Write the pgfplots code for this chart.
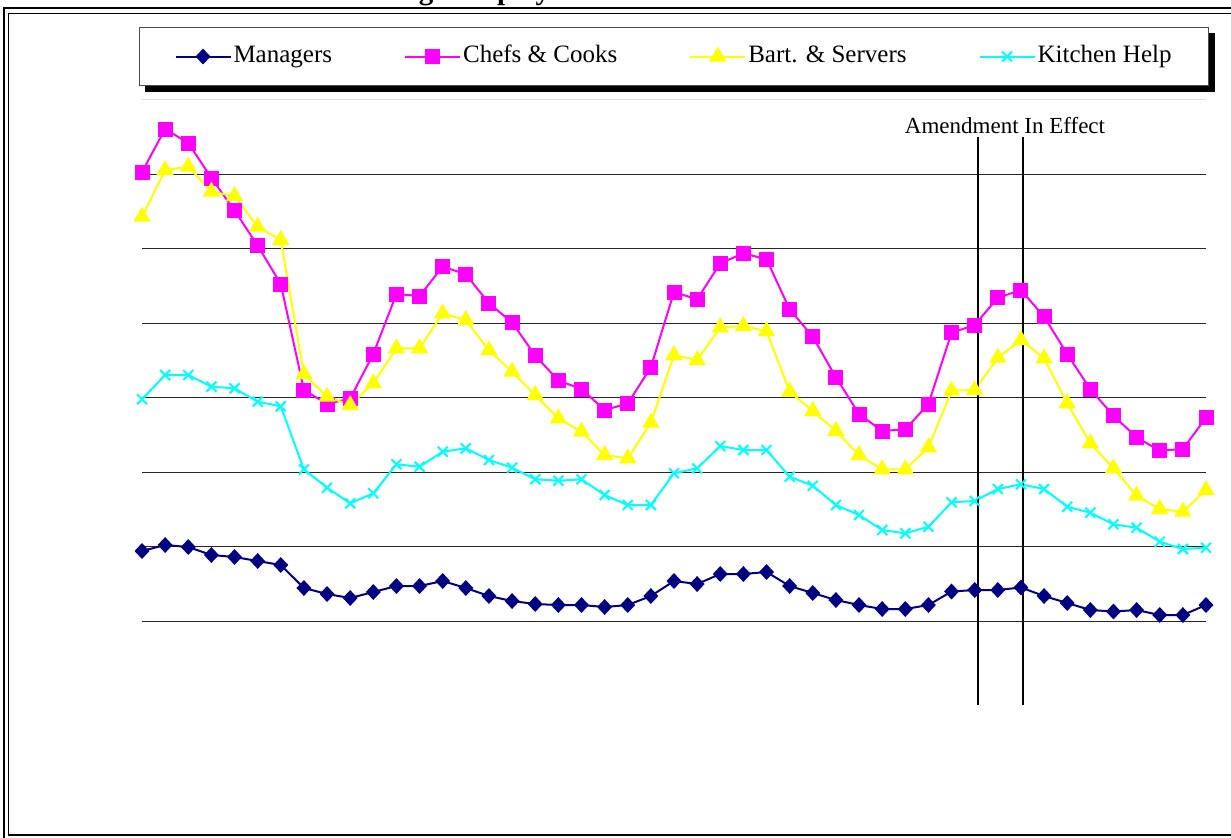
\documentclass[border=0pt]{standalone}
\usepackage{fontspec}
\setmainfont{Liberation Serif}
\usepackage{pgfplots}
\usepackage{pgfplotstable}
\pgfplotsset{compat=1.18}
\definecolor{mgr}{RGB}{0,0,128}
\definecolor{chef}{RGB}{255,0,255}
\definecolor{bart}{RGB}{255,255,0}
\definecolor{kit}{RGB}{0,255,255}

\pgfplotstableread{
x mgr chef bart kit
0 144.5 523.5 478.8 296.2
1 150.5 566.5 525.5 320.5
2 148.5 552.5 528.8 320.5
3 140.5 517.5 503.8 308.8
4 138.5 485.0 499.5 307.2
5 134.5 450.0 468.8 293.8
6 130.5 411.5 455.5 289.2
7 107.5 305.5 321.5 226.2
8 101.5 291.5 298.8 207.8
9 97.5 297.0 290.5 192.2
10 103.5 341.5 312.2 202.2
11 109.5 401.5 347.2 231.2
12 109.5 399.5 347.2 228.8
13 114.5 429.0 382.2 243.8
14 107.5 421.2 375.5 247.2
15 99.5 392.2 345.2 235.5
16 94.5 373.0 323.8 227.8
17 91.5 340.0 300.5 216.2
18 90.5 315.0 277.2 214.8
19 90.5 306.5 263.8 216.2
20 88.5 285.5 240.5 200.5
21 90.5 292.0 237.2 190.5
22 99.5 328.2 272.8 190.5
23 114.5 403.5 340.5 222.2
24 111.5 396.2 335.5 227.2
25 121.5 432.2 368.2 249.5
26 121.5 442.2 369.5 245.5
27 123.5 436.2 364.5 245.5
28 109.5 386.2 303.8 218.8
29 102.5 358.8 284.5 209.8
30 95.5 318.2 264.5 190.5
31 90.5 281.5 240.5 180.5
32 86.5 264.5 226.2 165.5
33 86.5 266.2 226.2 162.2
34 90.5 291.5 248.2 168.8
35 104.0 362.8 304.8 193.2
36 105.5 370.5 305.5 194.5
37 105.5 397.8 337.8 206.5
38 108.0 405.5 355.5 211.2
39 99.5 378.8 337.2 206.5
40 92.5 341.5 292.2 188.8
41 85.5 306.2 252.2 182.8
42 84.0 279.8 227.2 171.2
43 85.5 258.2 199.8 167.8
44 80.5 244.8 186.5 153.8
45 80.5 246.5 183.8 146.5
46 90.5 277.8 205.5 147.8
}\datatable

\begin{document}
\begin{tikzpicture}
\begin{scope}[x=0.5pt,y=-0.5pt]
\useasboundingbox (0,0) rectangle (1231,837);
\node[anchor=base west, inner sep=0pt, font=\bfseries\fontsize{14.5}{17}\selectfont] at (345,-0.5) {Average Employment};
\draw[line width=1pt] (3.5,8) rectangle (1250,850);
\draw[line width=0.75pt] (8.5,13.5) rectangle (1245,835);
\end{scope}
\begin{axis}[
  at={(71pt,-347.75pt)}, anchor=south west,
  scale only axis, width=532pt, height=298pt,
  xmin=0, xmax=46, ymin=0, ymax=596,
  clip=false,
  axis line style={draw=none},
  xtick=\empty,
  ytick={74.5,149,223.5,298,372.5,447,521.5},
  yticklabels={},
  major tick length=0pt,
  ymajorgrids,
  grid style={black!85, line width=0.5pt},
  extra y ticks={596},
  extra y tick labels={},
  extra y tick style={grid style={black!12, line width=0.5pt}},
  legend columns=4,
  legend cell align=left,
  legend image code/.code={\draw[mark repeat=2,mark phase=2,#1] plot coordinates {(0pt,0pt) (13.75pt,0pt) (27.5pt,0pt)};},
  legend style={
    name=leg,
    at={(-0.0028,1.1216)}, anchor=north west,
    draw=black!70, line width=0.5pt, fill=white,
    inner xsep=17.5pt, inner ysep=7.5pt,
    nodes={inner sep=1pt, text height=9pt, text depth=3pt},
    font=\fontsize{12.5}{14}\selectfont,
    /tikz/every even column/.append style={column sep=35pt},
  },
]
\addplot[mgr, line width=1pt, mark=diamond*, mark size=3.25pt, mark options={solid, xscale=1.25}] table[x=x, y=mgr] {\datatable};
\addlegendentry{Managers}
\addplot[chef, line width=1pt, mark=square*, mark size=3.25pt, mark options={solid}] table[x=x, y=chef] {\datatable};
\addlegendentry{Chefs \& Cooks}
\addplot[bart, line width=1pt, mark=triangle*, mark size=4pt, mark options={solid}] table[x=x, y=bart] {\datatable};
\addlegendentry{Bart. \& Servers}
\addplot[kit, line width=1pt, mark=x, mark size=3.5pt, mark options={solid}] table[x=x, y=kit] {\datatable};
\addlegendentry{Kitchen Help}
\addplot[black, line width=1pt, forget plot] coordinates {(36.16,-9.5) (36.16,558.5)};
\addplot[black, line width=1pt, forget plot] coordinates {(38.1,-9.5) (38.1,558.5)};
\node[anchor=base, inner sep=0pt, font=\fontsize{11.5}{13}\selectfont] at (axis cs:37.31,562.5) {Amendment In Effect};
\end{axis}
\fill[black] ([xshift=2.75pt]leg.south west) rectangle ([xshift=2.75pt,yshift=-2.75pt]leg.south east);
\fill[black] ([yshift=-2.75pt]leg.north east) rectangle ([xshift=2.75pt,yshift=-2.75pt]leg.south east);
\end{tikzpicture}
\end{document}
